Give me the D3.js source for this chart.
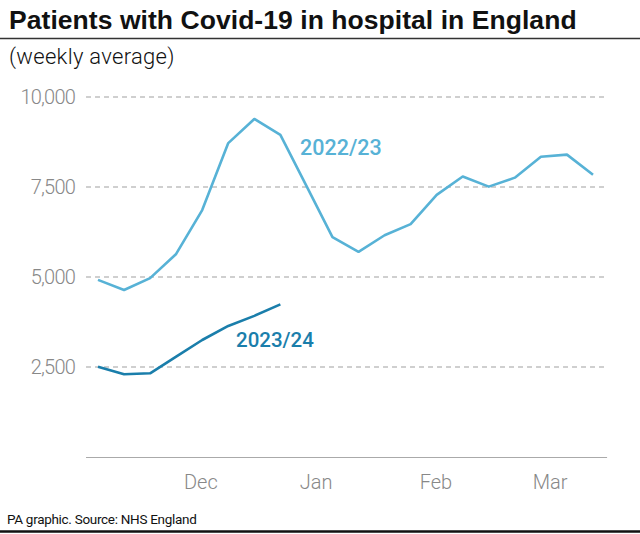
<!DOCTYPE html>
<html>
<head>
<meta charset="utf-8">
<script src="https://cdn.jsdelivr.net/npm/d3@7"></script>
<style>
  html, body { margin: 0; padding: 0; background: #fff; }
  svg { display: block; }
</style>
</head>
<body>
<svg id="chart" width="640" height="534"></svg>
<script>
// ---- data ----
const weeks = d3.range(20); // weekly points, early Nov to mid Mar
const series2223 = [4920, 4640, 4970, 5640, 6860, 8720, 9390, 8950, 7530, 6110, 5700, 6160, 6470, 7280, 7790, 7510, 7760, 8340, 8400, 7840];
const series2324 = [2510, 2300, 2325, 2790, 3250, 3640, 3920, 4240];
const yTicks = [2500, 5000, 7500, 10000];
const monthLabels = ["Dec", "Jan", "Feb", "Mar"];
const monthWeekPos = [3.95, 8.37, 12.97, 17.35];
const seriesNames = ["2022/23", "2023/24"];

// ---- layout ----
const svg = d3.select("#chart");
const W = 640, H = 534;
const colLight = "#57b2d6", colDark = "#1a7eab";

const x = d3.scaleLinear().domain([0, 19]).range([98, 593]);
const y = d3.scaleLinear().domain([0, 10000]).range([457, 97]);
const xMin = x(-0.46), xMax = x(19.54);

// title
svg.append("text").attr("x", 9).attr("y", 28.5)
  .attr("font-family", "Liberation Sans, Arial, sans-serif")
  .attr("font-weight", 700).attr("font-size", 26.5).attr("letter-spacing", 0.05)
  .attr("fill", "#111")
  .text("Patients with Covid-19 in hospital in England");
svg.append("line").attr("x1", 0).attr("x2", W).attr("y1", 38.5).attr("y2", 38.5)
  .attr("stroke", "#333").attr("stroke-width", 1.5);
svg.append("text").attr("x", 9).attr("y", 63.5)
  .attr("font-family", "Roboto, sans-serif").attr("font-weight", 300)
  .attr("font-size", 22).attr("fill", "#111").attr("letter-spacing", 0.3)
  .text("(weekly average)");

// gridlines + y labels
const g = svg.append("g");
g.selectAll("line.grid").data(yTicks).join("line")
  .attr("class", "grid")
  .attr("x1", xMin).attr("x2", xMax)
  .attr("y1", d => y(d)).attr("y2", d => y(d))
  .attr("stroke", "#a0a0a0").attr("stroke-width", 1.2)
  .attr("stroke-dasharray", "5,4");
g.selectAll("text.ylab").data(yTicks).join("text")
  .attr("class", "ylab")
  .attr("x", 75).attr("y", d => y(d)).attr("dy", "0.35em")
  .attr("text-anchor", "end")
  .attr("font-family", "Roboto, sans-serif").attr("font-weight", 300)
  .attr("font-size", 20).attr("fill", "#888").attr("letter-spacing", -0.8)
  .text(d => d3.format(",")(d));

// x axis
svg.append("line").attr("x1", xMin).attr("x2", xMax).attr("y1", 457.5).attr("y2", 457.5)
  .attr("stroke", "#aaa").attr("stroke-width", 1.2);
svg.selectAll("text.xlab").data(monthLabels).join("text")
  .attr("class", "xlab")
  .attr("x", (d, i) => x(monthWeekPos[i])).attr("y", 489)
  .attr("text-anchor", "middle")
  .attr("font-family", "Roboto, sans-serif").attr("font-weight", 300)
  .attr("font-size", 20).attr("fill", "#888")
  .text(d => d);

// lines
const line = d3.line().x((d, i) => x(weeks[i])).y(d => y(d));
svg.append("path").datum(series2223).attr("d", line)
  .attr("fill", "none").attr("stroke", colLight).attr("stroke-width", 2.6)
  .attr("stroke-linejoin", "round");
svg.append("path").datum(series2324).attr("d", line)
  .attr("fill", "none").attr("stroke", colDark).attr("stroke-width", 2.6)
  .attr("stroke-linejoin", "round");

// series labels
svg.append("text").attr("x", 300).attr("y", 155)
  .attr("font-family", "Roboto, sans-serif").attr("font-weight", 500)
  .attr("font-size", 21.5).attr("fill", colLight)
  .text(seriesNames[0]);
svg.append("text").attr("x", 236).attr("y", 347)
  .attr("font-family", "Roboto, sans-serif").attr("font-weight", 500)
  .attr("font-size", 20.5).attr("fill", colDark)
  .text(seriesNames[1]);

// footer
svg.append("text").attr("x", 7).attr("y", 524)
  .attr("font-family", "Roboto, sans-serif").attr("font-weight", 400)
  .attr("font-size", 13.5).attr("letter-spacing", -0.3).attr("fill", "#111")
  .text("PA graphic. Source: NHS England");
svg.append("line").attr("x1", 0).attr("x2", W).attr("y1", 531.5).attr("y2", 531.5)
  .attr("stroke", "#111").attr("stroke-width", 2.5);
</script>
</body>
</html>
